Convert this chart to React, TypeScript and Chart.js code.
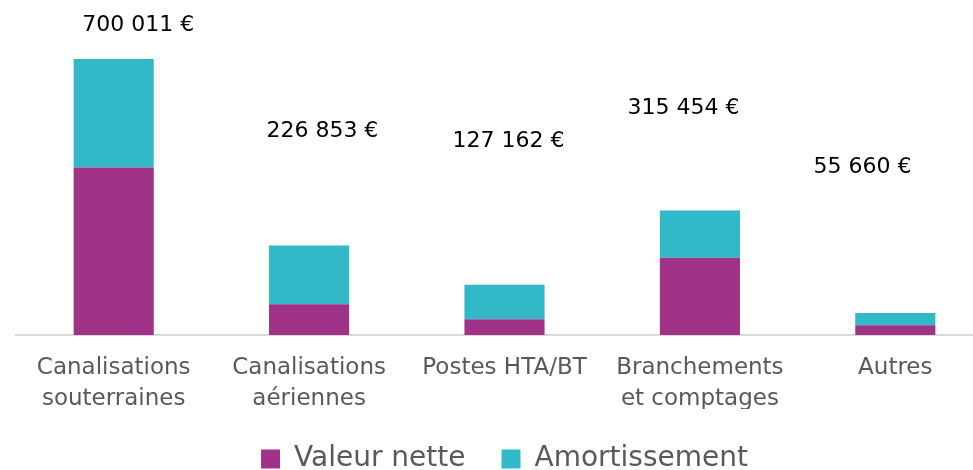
import React, { useEffect, useRef } from "react";
import { Chart, registerables } from "chart.js";

Chart.register(...registerables);

const categories: (string | string[])[] = [
  ["Canalisations", "souterraines"],
  ["Canalisations", "aériennes"],
  "Postes HTA/BT",
  ["Branchements", "et comptages"],
  "Autres",
];
const valeurNette = [425000, 78100, 40000, 196000, 24700];
const amortissement = [275011, 148753, 87162, 119454, 30960];
const totalLabels = ["700 011 €", "226 853 €", "127 162 €", "315 454 €", "55 660 €"];
// where each total label sits: [category offset, value on the y axis]
const labelAnchorX = [0.126, 0.068, 0.02, -0.084, -0.168];
const labelAnchorY = [786400, 516600, 491200, 575200, 425000];

const FONT = "'DejaVu Sans', sans-serif";

const totalsPlugin = {
  id: "totals",
  afterDatasetsDraw(chart: any) {
    const { ctx, scales } = chart;
    ctx.save();
    ctx.font = `22px ${FONT}`;
    ctx.fillStyle = "#000000";
    ctx.textAlign = "center";
    ctx.textBaseline = "middle";
    totalLabels.forEach((t, i) => {
      const x = scales.x.getPixelForValue(i + labelAnchorX[i]);
      const y = scales.y.getPixelForValue(labelAnchorY[i]);
      ctx.fillText(t, x, y);
    });
    ctx.restore();
  },
};

export default function App() {
  const ref = useRef<HTMLCanvasElement>(null);
  useEffect(() => {
    document.body.style.margin = "0";
    document.body.style.overflow = "hidden";
    const chart = new Chart(ref.current!, {
      type: "bar",
      data: {
        labels: categories,
        datasets: [
          {
            label: "Valeur nette",
            data: valeurNette,
            backgroundColor: "#A03288",
            categoryPercentage: 1,
            barPercentage: 0.41,
          },
          {
            label: "Amortissement",
            data: amortissement,
            backgroundColor: "#32B9C8",
            categoryPercentage: 1,
            barPercentage: 0.41,
          },
        ],
      },
      options: {
        animation: false,
        responsive: false,
        maintainAspectRatio: false,
        layout: { padding: { left: 16, right: 7, top: 0, bottom: 0 } },
        plugins: {
          legend: {
            position: "bottom",
            labels: {
              boxWidth: 19,
              boxHeight: 19,
              padding: 36,
              color: "#595959",
              font: { family: FONT, size: 28 },
            },
          },
          tooltip: { enabled: false },
        },
        scales: {
          x: {
            stacked: true,
            grid: { display: false, drawTicks: false },
            border: { display: true, color: "#D9D9D9", width: 2 },
            ticks: {
              color: "#595959",
              padding: 18,
              font: { family: FONT, size: 23, lineHeight: 1.35 },
              maxRotation: 0,
              autoSkip: false,
            },
            afterFit(scale: any) {
              scale.height -= 24;
            },
          },
          y: {
            stacked: true,
            display: false,
            min: 0,
            max: 850000,
          },
        },
      },
      plugins: [totalsPlugin],
    });
    return () => chart.destroy();
  }, []);
  return (
    <div style={{ width: 973, height: 470, overflow: "hidden", position: "relative" }}>
      <canvas ref={ref} width={1000} height={483} style={{ display: "block" }} />
    </div>
  );
}
